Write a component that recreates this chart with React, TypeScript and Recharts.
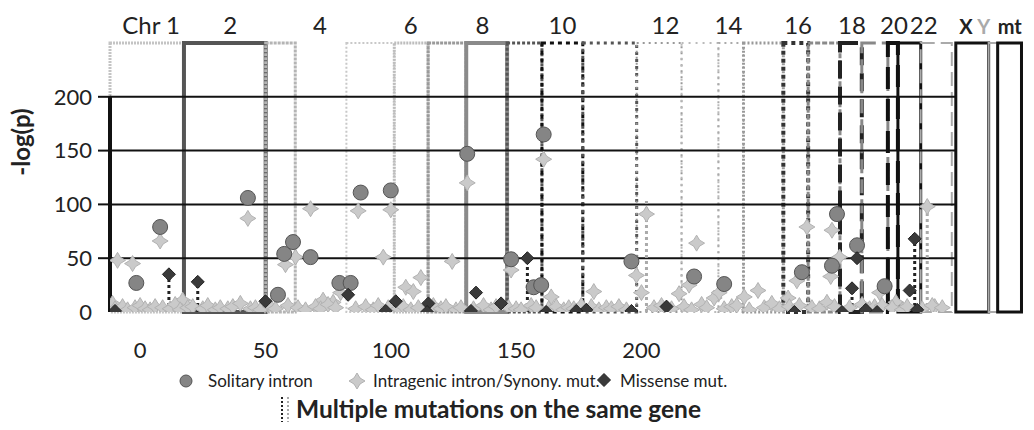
import React from 'react';
import { ComposedChart, Scatter, XAxis, YAxis, ReferenceArea, ReferenceLine } from 'recharts';

const FONT = 'Lato, "Open Sans", sans-serif';

// axis ticks
const xTicks = [0, 50, 100, 150, 200];
const yTicks = [0, 50, 100, 150, 200];
const gridValues = [50, 100, 150, 200];

// chromosome boxes (x units)
const chromNames = ['1', '2', '3', '4', '5', '6', '7', '8', '9', '10', '11', '12', '13', '14', '15', '16', '17', '18', '19', '20', '21', '22', 'X', 'Y', 'mt'];
const chromStart = [-12, 17.5, 50.1, 61.9, 82.3, 101.4, 114.9, 130.1, 146.4, 160.3, 176.6, 198.1, 216, 230.7, 240.7, 256.6, 266.5, 279.2, 287.9, 298.3, 302.3, 311.4, 325.4, 338.5, 342.1];
const chromEnd = [17.5, 50.1, 61.9, 82.3, 101.4, 114.9, 130.1, 146.4, 160.3, 176.6, 198.1, 216, 230.7, 240.7, 256.6, 266.5, 279.2, 287.9, 298.3, 302.3, 311.4, 323.8, 338.5, 342.1, 351.6];

// labels along the top
const chromLabels = ['Chr 1', '2', '4', '6', '8', '10', '12', '14', '16', '18', '20', '22', 'X', 'Y', 'mt'];
const chromLabelX = [4.4, 36, 71.8, 108, 136.6, 168.5, 209.6, 234.7, 262.5, 284, 300.7, 312.6, 329.4, 336.5, 346.9];

// [position, -log(p)]
const solitaryIntron: [number, number][] = [
  [-1.5, 27], [8, 79], [43, 106], [55, 16], [57.5, 54], [61, 65], [68, 51], [79.5, 27], [84, 27],
  [88, 111], [100, 113], [130.5, 147], [148, 49], [157, 23], [160, 25], [161, 165], [196, 47],
  [221, 33], [233, 26], [264, 37], [276, 43], [278, 91], [286, 62], [297, 24],
];

const intragenic: [number, number][] = [
  [-9, 48], [-3, 45], [8, 66], [43, 87], [58, 44], [62, 51], [68, 96], [17, 11], [-11, 8],
  [73, 11], [77, 9], [80, 18], [87, 94], [100, 95], [97, 51], [106, 23], [109, 19], [112, 32],
  [124.5, 47], [130.5, 120], [148, 39], [161, 142], [164, 14], [181, 19], [198, 34], [200, 18],
  [202, 91], [215, 17], [219, 25], [222, 64], [229, 13], [231, 18], [241, 14], [246.5, 20],
  [258.5, 13], [262, 29], [266, 79], [275.5, 33], [276, 76], [279, 51], [295, 18], [301.5, 9],
  [314, 98], [317, 5],
  // low-level points along the baseline
  [-10, 3], [-7, 5], [-5, 2], [-2, 4], [0, 6], [2, 3], [4, 2], [6, 5], [9, 4], [12, 3], [14, 7],
  [16, 2], [19, 4], [21, 5], [25, 3], [27, 6], [30, 2], [32, 4], [35, 3], [37, 5], [40, 8], [44, 3],
  [46, 4], [48, 2], [52, 5], [54, 3], [59, 6], [63, 4], [66, 2], [70, 5], [72, 3], [75, 7], [78, 4],
  [86, 3], [90, 5], [93, 2], [95, 6], [99, 4], [103, 3], [105, 5], [108, 2], [111, 4], [117, 6],
  [120, 3], [122, 5], [126, 2], [128, 4], [133, 3], [137, 6], [140, 2], [142, 5], [147, 4], [150, 3],
  [152, 2], [156, 6], [158, 4], [163, 3], [166, 5], [169, 2], [171, 4], [173, 3], [176, 6], [180, 5],
  [183, 2], [186, 4], [188, 3], [191, 5], [194, 2], [205, 4], [208, 6], [212, 3], [217, 5], [220, 2],
  [224, 7], [226, 4], [233, 3], [236, 5], [238, 6], [243, 2], [249, 4], [252, 8], [255, 3], [259, 5],
  [263, 6], [268, 4], [271, 3], [274, 9], [277, 5], [283, 4], [288, 7], [291, 3], [293, 5], [296, 6],
  [300, 4], [304, 2], [306, 5], [312, 3], [316, 6], [320, 4],
];

const missense: [number, number][] = [
  [11.5, 35], [23, 28], [50, 10], [83, 16], [102, 10], [115, 8], [134, 18], [144, 8], [154.5, 50],
  [178, 2], [210, 5], [284, 22], [286, 50], [307, 20], [309, 68],
  [-10, 1], [98, 1], [114.5, 0], [132, 1], [162, 0], [174, 1], [196, 1], [261, 0], [280, 0],
  [289.5, 2], [294, 0], [310, 2],
];

// multiple mutations on the same gene: [position, top value]
const multiDark: [number, number][] = [[11.5, 35], [23, 28], [154.5, 50], [284, 22], [309, 68]];
const multiLight: [number, number][] = [[202, 106], [314, 98]];

// box outline styles, one per chromosome
const boxStyle = [
  { stroke: '#c4c4c4', w: 3, dash: '2 1' },
  { stroke: '#555', w: 4, dash: '' },
  { stroke: '#b4b4b4', w: 3, dash: '3 1' },
  { stroke: 'none', w: 0, dash: '' },
  { stroke: '#c8c8c8', w: 2, dash: '2 2' },
  { stroke: '#bdbdbd', w: 3, dash: '2 1' },
  { stroke: '#9a9a9a', w: 3, dash: '3 1' },
  { stroke: '#8a8a8a', w: 4, dash: '' },
  { stroke: '#555', w: 3, dash: '3 2' },
  { stroke: '#111', w: 3, dash: '4 4' },
  { stroke: '#555', w: 3, dash: '3 4' },
  { stroke: '#999', w: 2, dash: '2 4' },
  { stroke: '#bbb', w: 2, dash: '2 5' },
  { stroke: '#aaa', w: 2, dash: '2 4' },
  { stroke: '#999', w: 3, dash: '2 2' },
  { stroke: '#333', w: 4, dash: '4 4' },
  { stroke: '#8a8a8a', w: 3, dash: '5 2' },
  { stroke: '#222', w: 4, dash: '18 8' },
  { stroke: '#888', w: 3, dash: '14 6' },
  { stroke: '#111', w: 4, dash: '22 10' },
  { stroke: '#111', w: 3, dash: '' },
  { stroke: '#aaa', w: 2, dash: '14 6' },
  { stroke: '#111', w: 3, dash: '' },
  { stroke: '#aaa', w: 2, dash: '' },
  { stroke: '#111', w: 3, dash: '' },
];

const toPoints = (arr: [number, number][]) => arr.map(([x, y]) => ({ x, y }));

const CircleMark = (p: any) => (
  <circle cx={p.cx} cy={p.cy} r={7.5} fill="#858585" stroke="#555" strokeWidth={1} />
);

const starPath = (cx: number, cy: number, R: number, r: number) =>
  `M${cx},${cy - R} L${cx + r},${cy - r} L${cx + R},${cy} L${cx + r},${cy + r} L${cx},${cy + R} L${cx - r},${cy + r} L${cx - R},${cy} L${cx - r},${cy - r} Z`;

const StarMark = (p: any) => (
  <path d={starPath(p.cx, p.cy, 8, 3)} fill="#cacaca" stroke="#b2b2b2" strokeWidth={1} />
);

const DiamondMark = (p: any) => (
  <path d={starPath(p.cx, p.cy, 6.5, 3.25)} fill="#3a3a3a" stroke="#222" strokeWidth={1} />
);

const YTick = (p: any) => {
  const v = p.payload.value;
  return (
    <g>
      {v > 0 && <line x1={p.x + 6} x2={p.x + 19} y1={p.y} y2={p.y} stroke="#111" strokeWidth={2} />}
      <text x={p.x} y={p.y} dy="0.35em" textAnchor="end" fontSize={22} fill="#222" fontFamily={FONT}>
        {v}
      </text>
    </g>
  );
};

const TopTick = (p: any) => {
  const i = chromLabelX.indexOf(p.payload.value);
  const label = chromLabels[i] ?? '';
  const small = label === 'X' || label === 'Y' || label === 'mt';
  return (
    <text
      x={p.x}
      y={p.y}
      textAnchor="middle"
      fontSize={small ? 20 : 24}
      fontWeight={small ? 700 : 400}
      fill={label === 'Y' ? '#aaa' : '#222'}
      fontFamily={FONT}
    >
      {label}
    </text>
  );
};

export default function App() {
  return (
    <div style={{ position: 'relative', width: 1018, height: 422, marginBottom: -8, fontFamily: FONT }}>
      <ComposedChart width={1018} height={414} margin={{ top: 0, right: 1, bottom: 0, left: 0 }}>
        <XAxis
          xAxisId="top"
          orientation="top"
          type="number"
          dataKey="x"
          domain={[-12, 353]}
          allowDataOverflow
          ticks={chromLabelX}
          interval={0}
          height={35}
          axisLine={false}
          tickLine={false}
          tickSize={0}
          tickMargin={9}
          tick={<TopTick />}
        />
        <XAxis
          type="number"
          dataKey="x"
          domain={[-12, 353]}
          allowDataOverflow
          ticks={xTicks}
          interval={0}
          height={110}
          axisLine={false}
          tickLine={false}
          tickSize={0}
          tickMargin={30}
          tick={{ fontSize: 22, fill: '#222', fontFamily: FONT }}
        />
        <YAxis
          type="number"
          dataKey="y"
          domain={[0, 250]}
          allowDataOverflow
          ticks={yTicks}
          interval={0}
          width={102}
          axisLine={false}
          tickLine={false}
          tickSize={12}
          tickMargin={6}
          tick={<YTick />}
        />

        {chromNames.map((name, i) => (
          <ReferenceArea
            key={name}
            x1={chromStart[i]}
            x2={chromEnd[i]}
            y1={0}
            y2={250}
            fill="none"
            fillOpacity={0}
            stroke={boxStyle[i].stroke}
            strokeWidth={boxStyle[i].w}
            strokeDasharray={boxStyle[i].dash}
            strokeOpacity={1}
          />
        ))}

        {gridValues.map((v) => (
          <ReferenceLine
            key={v}
            segment={[{ x: -12, y: v }, { x: 325.4, y: v }]}
            stroke="#111"
            strokeWidth={2}
          />
        ))}
        <ReferenceLine segment={[{ x: -12, y: 0 }, { x: -12, y: 200 }]} stroke="#111" strokeWidth={4} />

        {multiDark.map(([x, top]) => (
          <ReferenceLine key={`d${x}`} segment={[{ x, y: 0 }, { x, y: top }]} stroke="#222" strokeWidth={3} strokeDasharray="3 3" />
        ))}
        {multiLight.map(([x, top]) => (
          <ReferenceLine key={`l${x}`} segment={[{ x, y: 0 }, { x, y: top }]} stroke="#aaa" strokeWidth={3} strokeDasharray="3 3" />
        ))}

        <Scatter name="Intragenic intron/Synony. mut." data={toPoints(intragenic)} shape={StarMark} isAnimationActive={false} />
        <Scatter name="Solitary intron" data={toPoints(solitaryIntron)} shape={CircleMark} isAnimationActive={false} />
        <Scatter name="Missense mut." data={toPoints(missense)} shape={DiamondMark} isAnimationActive={false} />
      </ComposedChart>

      <svg
        style={{ position: 'absolute', left: 0, top: 0, overflow: 'visible', pointerEvents: 'none' }}
        width={1018}
        height={422}
      >
        <text
          transform="translate(22, 134) rotate(-90)"
          textAnchor="middle"
          fontSize={24}
          fontWeight={700}
          fill="#222"
          fontFamily={FONT}
        >
          -log(p)
        </text>

        <g fontFamily={FONT} fontSize={17} fill="#222">
          <circle cx={178} cy={373} r={6} fill="#858585" stroke="#555" />
          <text x={200} y={379}>Solitary intron</text>
          <path d={starPath(349, 373, 8, 3)} fill="#cacaca" stroke="#b2b2b2" />
          <text x={365} y={379}>Intragenic intron/Synony. mut.</text>
          <path d={starPath(596, 372, 6.5, 3.25)} fill="#3a3a3a" stroke="#222" />
          <text x={612} y={379}>Missense mut.</text>
        </g>

        <line x1={274} x2={274} y1={389} y2={418} stroke="#222" strokeWidth={2} strokeDasharray="2 2" />
        <line x1={280} x2={280} y1={389} y2={418} stroke="#aaa" strokeWidth={2} strokeDasharray="2 2" />
        <text x={288} y={410} fontFamily={FONT} fontSize={24.5} fontWeight={700} fill="#222">
          Multiple mutations on the same gene
        </text>
      </svg>
    </div>
  );
}
